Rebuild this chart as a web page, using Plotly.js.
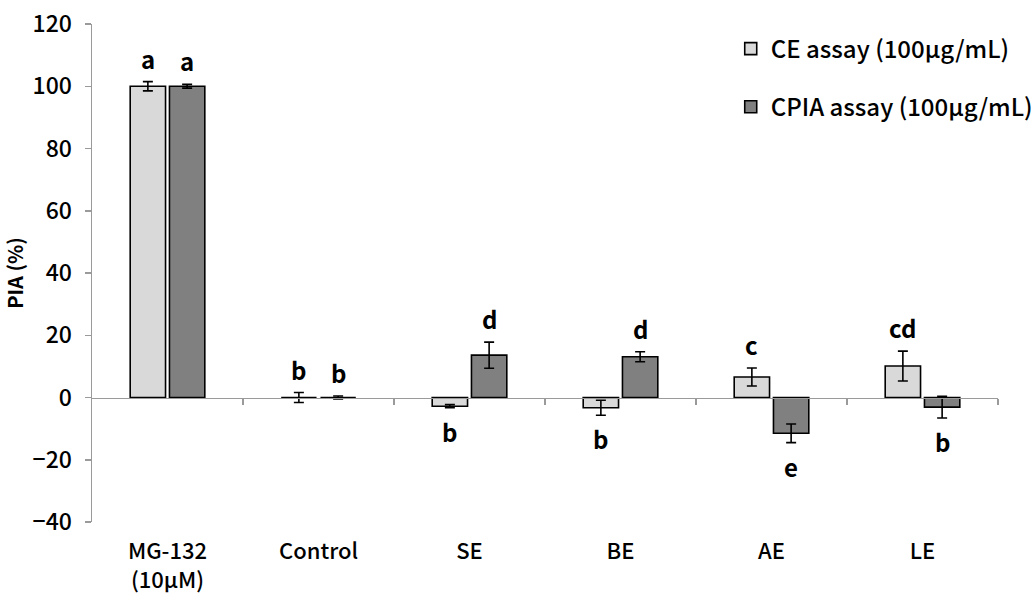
<!DOCTYPE html>
<html>
<head>
<meta charset="utf-8">
<script src="https://cdn.plot.ly/plotly-3.0.1.min.js"></script>
<style>
  html, body { margin: 0; padding: 0; background: #fff; }
  #chart { width: 1036px; height: 604px; }
</style>
</head>
<body>
<div id="chart"></div>
<script>
// Treatment groups along the x axis
const categories = ['MG-132<br>(10μM)', 'Control', 'SE', 'BE', 'AE', 'LE'];

// CE assay (100 μg/mL): mean PIA (%) and error
const ceValues = [100, 0, -2.8, -3.3, 6.6, 10.1];
const ceErrors = [1.5, 1.6, 0.5, 2.4, 2.9, 4.8];
const ceLetters = ['a', 'b', 'b', 'b', 'c', 'cd'];

// CPIA assay (100 μg/mL): mean PIA (%) and error
const cpiaValues = [100, 0, 13.6, 13.1, -11.5, -3.1];
const cpiaErrors = [0.6, 0.5, 4.2, 1.6, 3.0, 3.5];
const cpiaLetters = ['a', 'b', 'd', 'd', 'e', 'b'];

const yTicks = [-40, -20, 0, 20, 40, 60, 80, 100, 120];

const FONT = '"Noto Sans CJK KR", "Noto Sans", sans-serif';
const AXIS_GREY = '#9a9a9a';

const W = 1036, H = 604;
const margin = { l: 92, r: 38, t: 24, b: 82, autoexpand: false };
const bargap = 0.48, bargroupgap = 0.1;

const errStyle = (arr) => ({
  type: 'data', array: arr, visible: true,
  color: '#000', thickness: 1.6, width: 5
});

const traces = [
  {
    type: 'bar', name: 'CE assay (100μg/mL)', x: categories, y: ceValues,
    marker: { color: '#d9d9d9', line: { color: '#000', width: 1.6 } },
    error_y: errStyle(ceErrors), legendgroup: 'ce', hoverinfo: 'skip'
  },
  {
    type: 'bar', name: 'CPIA assay (100μg/mL)', x: categories, y: cpiaValues,
    marker: { color: '#808080', line: { color: '#000', width: 1.6 } },
    error_y: errStyle(cpiaErrors), legendgroup: 'cpia', hoverinfo: 'skip'
  }
];

// Significance letters sit just beyond the end of each error bar
const catWidth = (W - margin.l - margin.r) / categories.length;
const offset = catWidth * (1 - bargap) / 4;
const annotations = [];
function addLetters(values, errors, letters, sign) {
  values.forEach((v, i) => {
    const up = v >= 0;
    annotations.push({
      x: categories[i], y: up ? v + errors[i] : v - errors[i],
      xref: 'x', yref: 'y', text: letters[i], showarrow: false,
      xshift: sign * offset, yshift: up ? 4 : -4,
      yanchor: up ? 'bottom' : 'top',
      font: { family: FONT, size: 24, color: '#000', weight: 600 }
    });
  });
}
addLetters(ceValues, ceErrors, ceLetters, -1);
addLetters(cpiaValues, cpiaErrors, cpiaLetters, 1);

const layout = {
  width: W, height: H, margin: margin,
  paper_bgcolor: '#fff', plot_bgcolor: '#fff',
  font: { family: FONT, size: 22, color: '#000' },
  barmode: 'group', bargap: bargap, bargroupgap: bargroupgap,
  showlegend: true,
  legend: {
    x: 0.705, y: 0.995, xanchor: 'left', yanchor: 'top',
    bgcolor: 'rgba(0,0,0,0)', tracegroupgap: 24,
    font: { family: FONT, size: 24, color: '#000', weight: 500 }
  },
  xaxis: {
    type: 'category', showline: false, showgrid: false, zeroline: false,
    ticks: 'outside', ticklen: 10, tickcolor: 'rgba(0,0,0,0)',
    tickfont: { family: FONT, size: 22, color: '#000', weight: 500 }
  },
  // Category axis drawn through y = 0 with ticks between groups
  xaxis2: {
    overlaying: 'x', anchor: 'free', side: 'bottom',
    position: (0 - (-40)) / (120 - (-40)),
    range: [-0.5, categories.length - 0.5],
    tickvals: categories.map((_, i) => i + 0.5),
    showticklabels: false, ticks: 'outside', ticklen: 6, tickwidth: 1.5,
    tickcolor: AXIS_GREY, showline: true, linecolor: AXIS_GREY, linewidth: 1.5,
    showgrid: false, zeroline: false
  },
  yaxis: {
    range: [-40, 120], tickvals: yTicks, showgrid: false, zeroline: false,
    showline: true, linecolor: AXIS_GREY, linewidth: 1.5,
    ticks: 'outside', ticklen: 6, tickwidth: 1.5, tickcolor: AXIS_GREY,
    ticklabelstandoff: 8,
    tickfont: { family: FONT, size: 23, color: '#000', weight: 500 },
    title: { text: 'PIA (%)', standoff: 4,
      font: { family: FONT, size: 20, color: '#000', weight: 700 } }
  },
  annotations: annotations
};

// Empty helper trace so xaxis2 gets rendered
traces.push({ type: 'scatter', x: [0], y: [0], xaxis: 'x2', yaxis: 'y',
  mode: 'markers', marker: { opacity: 0 }, showlegend: false, hoverinfo: 'skip' });

Plotly.newPlot('chart', traces, layout, { displayModeBar: false, staticPlot: true });
</script>
</body>
</html>
